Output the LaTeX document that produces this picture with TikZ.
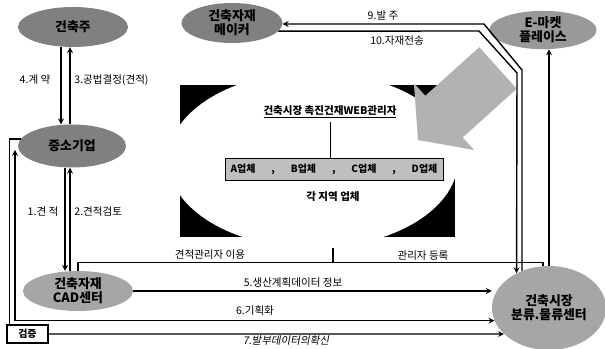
\documentclass[tikz,border=0pt]{standalone}
\usepackage{fontspec}
\setmainfont{Noto Sans CJK KR}
\newfontfamily\slantkr{Noto Sans CJK KR}[FakeSlant=0.2]
\usepackage{tikz}
\usetikzlibrary{shapes.geometric, arrows, positioning, calc}

\begin{document}
\begin{tikzpicture}[x=0.03cm, y=-0.03cm,
      every node/.style={font=\fontsize{9}{10}\selectfont, text=black},
        hub/.style={ellipse, fill=black!50, inner sep=0pt, align=center, font=\bfseries\fontsize{11}{12}\selectfont},
        lbl/.style={inner sep=1pt},
        link/.style={line width=1.2pt},
        arrow/.style={line width=1.2pt,->,>=stealth}
          ]
        \useasboundingbox (0,0) rectangle (605,349);

        % Web manager picture
        \fill[black] (180,85) rectangle (455,237);
        \node (region) [ellipse, fill=white, minimum width=8.7cm, minimum height=5.28cm] at (313,160) {};
        \fill[black!30] (479.3,47.2) -- (516.7,88.8) -- (462.7,137.4) -- (474.1,150) -- (418,140) -- (413.9,83.2) -- (425.3,95.8) -- cycle;
        \node (title) [font=\bfseries\fontsize{9}{10}\selectfont] at (330,112) {\underline{건축시장 촉진건재WEB관리자}};
        \node (firms) [rectangle, draw, fill=black!25, minimum width=6.54cm, minimum height=0.66cm, inner sep=0pt, font=\bfseries\fontsize{8.5}{10}\selectfont] at (334,169)
          {\makebox[6.2cm]{A업체\hfill,\hfill B업체\hfill,\hfill C업체\hfill,\hfill D업체}};
        \node (local) [font=\bfseries\fontsize{9}{10}\selectfont] at (333,197) {각 지역 업체};
        \draw [thick] (title.south) -- (title.south |- firms.north);

        % Ellipses
        \node (owner) [hub, minimum width=3.3cm, minimum height=1.2cm] at (73,27) {건축주};
        \node (smallco) [hub, minimum width=3.24cm, minimum height=1.29cm] at (72,146) {중소기업};
        \node (cad) [hub, fill=black!35, minimum width=3.3cm, minimum height=1.2cm] at (78,291) {건축자재\\CAD센터};
        \node (maker) [hub, minimum width=3.03cm, minimum height=1.2cm] at (232,23) {건축자재\\메이커};
        \node (emarket) [hub, fill=black!40, minimum width=3.21cm, minimum height=1.15cm] at (543,30) {E-마켓\\플레이스};
        \node (center) [hub, fill=black!35, minimum width=3.42cm, minimum height=2.52cm] at (549,308) {건축시장\\분류.물류센터};
        \node (verify) [rectangle, draw, line width=1pt, minimum width=1.23cm, minimum height=0.54cm, inner sep=0pt, font=\bfseries\fontsize{8.5}{10}\selectfont] at (27.5,334) {검증};

        % Bends
        \coordinate (nineA) at (522,70);
        \coordinate (nineB) at (484,24);
        \coordinate (tenA) at (517,73);
        \coordinate (tenB) at (479,31);
        \coordinate (plantop) at (15,150);

        % Owner and small company
        \draw [arrow] ([xshift=-0.36cm]owner.south) -- ([xshift=-0.36cm]owner.south |- smallco.north);
        \draw [arrow] ([xshift=-0.06cm]smallco.north) -- ([xshift=-0.06cm]smallco.north |- owner.south);
        \node (lbl4) [lbl] at (35,80) {4.계 약};
        \node (lbl3) [lbl, anchor=west] at (73,80) {3.공법결정(견적)};

        % Small company and CAD center
        \draw [arrow] ([xshift=-0.21cm]smallco.south) -- ([xshift=-0.21cm]smallco.south |- cad.north);
        \draw [arrow] ([xshift=-0.06cm]smallco.south |- cad.north) -- ([xshift=-0.06cm]smallco.south);
        \node (lbl1) [lbl] at (43,212) {1.견 적};
        \node (lbl2) [lbl, anchor=west] at (73,212) {2.견적검토};

        % Left lines
        \draw [link] ([xshift=0.09cm]verify.north west) |- (smallco.172);
        \draw [arrow, <->] (plantop) |- (center.193);
        \draw [arrow] (verify.east) -- (center.210);
        \draw [arrow] (cad.east) -- (cad.east -| center.west);
        \node (lbl5) [lbl] at (293,283) {5.생산계획데이터 정보};
        \node (lbl6) [lbl] at (255,311) {6.기획화};
        \node (lbl7) [lbl, font=\slantkr\fontsize{9}{10}\selectfont] at (286,341) {7.발부데이터의확신};

        % Manager line
        \draw [link] (cad.north) |- ([xshift=-0.18cm, yshift=0.1cm]center.north) -- ([xshift=-0.18cm]center.north);
        \draw [link] ([xshift=0.6cm]region.south) -- ([xshift=0.6cm, yshift=0.1cm]region.south |- center.north);
        \node (lblest) [lbl] at (210,255) {견적관리자 이용};
        \node (lbladm) [lbl] at (423,256) {관리자 등록};

        % Maker and market
        \draw [arrow] (center.126) -- (nineA) -- (nineB) -- (nineB -| maker.east);
        \draw [arrow] (maker.-10) -- (tenB) -- (tenA) -- (center.133);
        \draw [arrow] (center.north) -- (center.north |- emarket.south);
        \node (lbl9) [lbl] at (383,16) {9.발 주};
        \node (lbl10) [lbl] at (397,41) {10.자재전송};

          \end{tikzpicture}
\end{document}
